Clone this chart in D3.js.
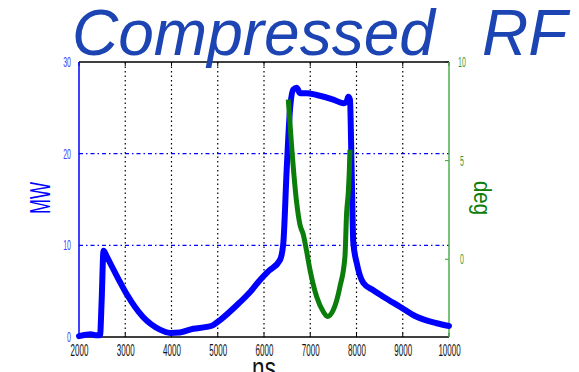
<!DOCTYPE html>
<html lang="en">
<head>
<meta charset="UTF-8">
<title>Compressed RF</title>
<script src="https://d3js.org/d3.v7.min.js"></script>
<style>
    body { margin: 0; background: #fff; }
    svg { display: block; font-family: "Liberation Sans", Arial, sans-serif; }
    .axis path { display: none; }
    .axis line { display: none; }
</style>
</head>
<body>
<div id="chart"></div>
<script>
    // power trace (MW) vs time (ns)
    const mwTime = [2000, 2150, 2250, 2350, 2455, 2490, 2530, 2600, 2700, 2850, 3040, 3380, 3750, 3970, 4180, 4470, 4760, 4900, 5050, 5480, 5700, 5910, 6100, 6346, 6417, 6490, 6562, 6634, 6707, 6778, 6922, 7139, 7498, 7714, 7788, 7822, 7859, 7895, 7931, 8004, 8147, 8363, 8579, 8940, 9301, 9733, 10000];
    const mwValue = [0.1, 0.25, 0.3, 0.2, 0.2, 4.0, 9.4, 8.8, 7.8, 6.35, 4.6, 2.2, 0.8, 0.45, 0.5, 0.9, 1.1, 1.3, 1.85, 3.8, 4.9, 6.2, 7.2, 8.4, 10.2, 18.2, 24.8, 27.0, 27.2, 26.6, 26.6, 26.4, 25.9, 25.5, 25.7, 26.2, 25.9, 18.2, 10.3, 8.1, 5.9, 5.1, 4.4, 3.3, 2.2, 1.5, 1.2];

    // phase trace (deg) vs time (ns)
    const degTime = [6525, 6598, 6707, 6778, 6850, 6922, 6995, 7139, 7283, 7370, 7498, 7642, 7750, 7786, 7822, 7845, 7859];
    const degValue = [8.1, 5.7, 2.85, 1.75, 1.25, 0.4, -0.54, -1.9, -2.66, -2.9, -2.57, -1.39, 0.13, 2.35, 3.37, 4.5, 5.55];

    const xTicks = [2000, 3000, 4000, 5000, 6000, 7000, 8000, 9000, 10000];
    const mwTicks = [0, 10, 20, 30];
    const degTicks = [0, 5, 10];

    const W = 579, H = 372;
    const pLeft = 79, pRight = 449, pTop = 62, pBottom = 337;

    const svg = d3.select("#chart").append("svg")
        .attr("width", W)
        .attr("height", H);

    const x = d3.scaleLinear().domain([2000, 10000]).range([pLeft, pRight]);
    const yMW = d3.scaleLinear().domain([0, 30]).range([pBottom, pTop]);
    const yDeg = d3.scaleLinear().domain([-3.94, 10]).range([pBottom, pTop]);

    // grid
    svg.append("g")
        .selectAll("line")
        .data(xTicks.slice(1, -1))
        .join("line")
        .attr("x1", d => x(d)).attr("x2", d => x(d))
        .attr("y1", pTop).attr("y2", pBottom)
        .attr("stroke", "#000")
        .attr("stroke-width", 1.2)
        .attr("stroke-dasharray", "1.5,3");

    svg.append("g")
        .selectAll("line")
        .data(mwTicks.slice(1, -1))
        .join("line")
        .attr("x1", pLeft).attr("x2", pRight)
        .attr("y1", d => yMW(d)).attr("y2", d => yMW(d))
        .attr("stroke", "#0000ff")
        .attr("stroke-width", 1.2)
        .attr("stroke-dasharray", "4,3,1.5,3");

    // small tick marks on the frame
    const tickLen = 4;
    svg.append("g")
        .selectAll("line")
        .data(xTicks)
        .join("line")
        .attr("x1", d => x(d)).attr("x2", d => x(d))
        .attr("y1", pTop).attr("y2", pTop + tickLen)
        .attr("stroke", "#000");
    svg.append("g")
        .selectAll("line")
        .data(xTicks)
        .join("line")
        .attr("x1", d => x(d)).attr("x2", d => x(d))
        .attr("y1", pBottom).attr("y2", pBottom - tickLen)
        .attr("stroke", "#000");
    svg.append("g")
        .selectAll("line")
        .data(degTicks)
        .join("line")
        .attr("x1", pRight - tickLen).attr("x2", pRight)
        .attr("y1", d => yDeg(d)).attr("y2", d => yDeg(d))
        .attr("stroke", "#3a9a3a");

    // frame
    svg.append("line").attr("x1", pLeft).attr("x2", pRight).attr("y1", pTop).attr("y2", pTop)
        .attr("stroke", "#000").attr("stroke-width", 1.5);
    svg.append("line").attr("x1", pLeft).attr("x2", pRight).attr("y1", pBottom).attr("y2", pBottom)
        .attr("stroke", "#000").attr("stroke-width", 1.5);
    svg.append("line").attr("x1", pLeft).attr("x2", pLeft).attr("y1", pTop).attr("y2", pBottom)
        .attr("stroke", "#0000ff").attr("stroke-width", 1.5);
    svg.append("line").attr("x1", pRight).attr("x2", pRight).attr("y1", pTop).attr("y2", pBottom)
        .attr("stroke", "#4caf50").attr("stroke-width", 1.5);

    // curves
    const mwLine = d3.line()
        .x((d, i) => x(mwTime[i]))
        .y(d => yMW(d))
        .curve(d3.curveMonotoneX);
    svg.append("path")
        .datum(mwValue)
        .attr("d", mwLine)
        .attr("fill", "none")
        .attr("stroke", "#0000ff")
        .attr("stroke-width", 6)
        .attr("stroke-linejoin", "round")
        .attr("stroke-linecap", "round");

    const degLine = d3.line()
        .x((d, i) => x(degTime[i]))
        .y(d => yDeg(d))
        .curve(d3.curveMonotoneX);
    svg.append("path")
        .datum(degValue)
        .attr("d", degLine)
        .attr("fill", "none")
        .attr("stroke", "#0a7d0a")
        .attr("stroke-width", 5)
        .attr("stroke-linejoin", "round")
        .attr("stroke-linecap", "butt");

    // axes (labels only, narrow font)
    const sx = 0.5;
    svg.append("g")
        .attr("class", "axis")
        .attr("transform", `translate(0,${pBottom})`)
        .call(d3.axisBottom(x).tickValues(xTicks).tickSize(0).tickPadding(7.5).tickFormat(d3.format("d")))
        .selectAll("text")
        .attr("fill", "#111")
        .attr("font-size", 16)
        .attr("transform", `scale(${sx},1)`);

    svg.append("g")
        .attr("class", "axis")
        .attr("transform", `translate(${pLeft},0)`)
        .call(d3.axisLeft(yMW).tickValues(mwTicks).tickSize(0).tickFormat(d3.format("d")))
        .selectAll("text")
        .attr("fill", "#4040ff")
        .attr("font-size", 14)
        .attr("x", -8 / sx)
        .attr("transform", `scale(${sx},1)`);

    svg.append("g")
        .attr("class", "axis")
        .attr("transform", `translate(${pRight},0)`)
        .call(d3.axisRight(yDeg).tickValues(degTicks).tickSize(0).tickFormat(d3.format("d")))
        .selectAll("text")
        .attr("fill", "#3a9a3a")
        .attr("font-size", 14)
        .attr("x", 13 / sx)
        .attr("text-anchor", "middle")
        .attr("transform", `scale(${sx},1)`);

    // axis titles
    svg.append("text")
        .attr("transform", `translate(50,198) rotate(-90) scale(0.6,1)`)
        .attr("text-anchor", "middle")
        .attr("font-size", 30)
        .attr("fill", "#0000ff")
        .text("MW");

    svg.append("text")
        .attr("transform", `translate(474,198) rotate(90) scale(0.85,1)`)
        .attr("text-anchor", "middle")
        .attr("font-size", 24)
        .attr("fill", "#0a7d0a")
        .text("deg");

    svg.append("text")
        .attr("transform", `translate(264,378) scale(0.75,1)`)
        .attr("text-anchor", "middle")
        .attr("font-size", 30)
        .attr("fill", "#111")
        .text("ns");

    // title
    svg.append("text")
        .attr("x", 72).attr("y", 55)
        .attr("font-size", 64)
        .attr("font-style", "italic")
        .attr("fill", "#1c44b2")
        .text("Compressed");
    svg.append("text")
        .attr("x", 482).attr("y", 55)
        .attr("font-size", 64)
        .attr("font-style", "italic")
        .attr("fill", "#1c44b2")
        .text("RF");
</script>
</body>
</html>
